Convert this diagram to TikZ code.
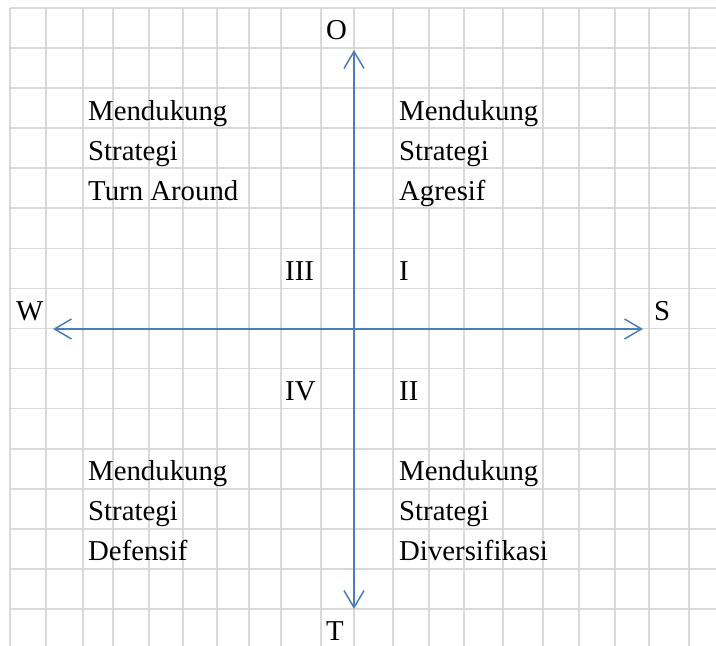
\documentclass[tikz,border=0pt]{standalone}
\usepackage{fontspec}
\setmainfont{Liberation Serif}
\usetikzlibrary{arrows.meta}
\definecolor{gridgray}{RGB}{217,217,217}
\definecolor{axisblue}{RGB}{74,126,187}
\begin{document}
\begin{tikzpicture}[x=1pt,y=-1pt,
  gridline/.style={draw=gridgray,line width=1.7pt},
  axis/.style={draw=axisblue,line width=1.5pt,-{Straight Barb[length=17pt,width=20pt,line width=1.5pt]}},
  lbl/.style={anchor=base west,inner sep=0pt,font=\fontsize{28.8}{34}\selectfont}]
\useasboundingbox (0,0) rectangle (716,646);
\fill[white] (0,0) rectangle (716,646);
% grid
\foreach \x in {10,46,83,113,149,183,217,249,281,321,354,393,429,464,503,543,579,615,649,689}
  \draw[gridline] (\x,8) -- (\x,646);
\foreach \k in {0,...,15}
  \draw[gridline] (10,8+40.06*\k) -- (716,8+40.06*\k);
% axes
\coordinate (c) at (354,329);
\coordinate (top) at (354,50);
\coordinate (bot) at (354,609);
\coordinate (left) at (53,329);
\coordinate (right) at (643,329);
\draw[axis] (c) -- (top);
\draw[axis] (c) -- (bot);
\draw[axis] (c) -- (left);
\draw[axis] (c) -- (right);
% labels
\node[lbl] (O) at (326,39) {O};
\node[lbl] (T) at (326,640) {T};
\node[lbl] (W) at (16,320) {W};
\node[lbl] (S) at (654,320) {S};
\node[lbl] (III) at (285,280) {III};
\node[lbl] (I) at (399,280) {I};
\node[lbl] (IV) at (285,400) {IV};
\node[lbl] (II) at (399,400) {II};
\node[lbl] (a1) at (88,120) {Mendukung};
\node[lbl] (a2) at (88,160) {Strategi};
\node[lbl] (a3) at (88,200) {Turn Around};
\node[lbl] (b1) at (399,120) {Mendukung};
\node[lbl] (b2) at (399,160) {Strategi};
\node[lbl] (b3) at (399,200) {Agresif};
\node[lbl] (c1) at (88,480) {Mendukung};
\node[lbl] (c2) at (88,520) {Strategi};
\node[lbl] (c3) at (88,560) {Defensif};
\node[lbl] (d1) at (399,480) {Mendukung};
\node[lbl] (d2) at (399,520) {Strategi};
\node[lbl] (d3) at (399,560) {Diversifikasi};
\end{tikzpicture}
\end{document}
